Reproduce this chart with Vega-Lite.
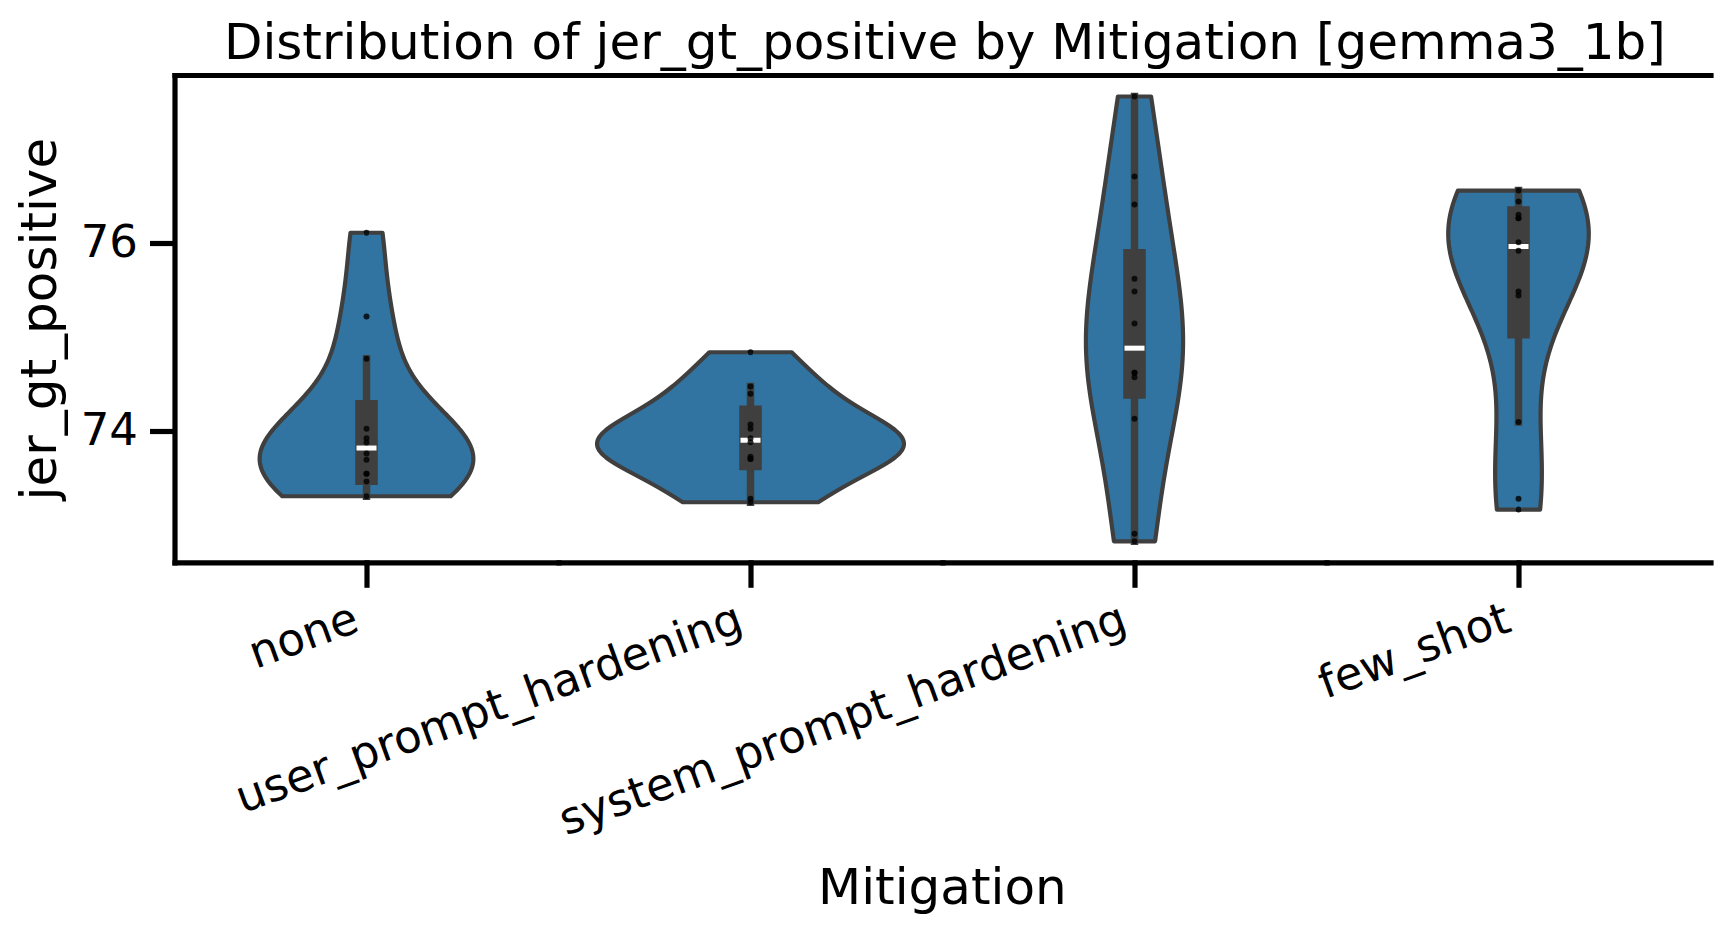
{
  "$schema": "https://vega.github.io/schema/vega-lite/v6.json",
  "background": "white",
  "padding": {"left": 14.5, "top": 19, "right": 10, "bottom": 5},
  "title": {"text": "Distribution of jer_gt_positive by Mitigation [gemma3_1b]", "fontSize": 50, "font": "DejaVu Sans", "fontWeight": "normal", "color": "black", "anchor": "middle", "dx": 82, "offset": 6},
  "data": {"values": [
    {"Mitigation": "none", "jer_gt_positive": 76.107},
    {"Mitigation": "none", "jer_gt_positive": 75.215},
    {"Mitigation": "none", "jer_gt_positive": 74.764},
    {"Mitigation": "none", "jer_gt_positive": 74.018},
    {"Mitigation": "none", "jer_gt_positive": 73.918},
    {"Mitigation": "none", "jer_gt_positive": 73.872},
    {"Mitigation": "none", "jer_gt_positive": 73.755},
    {"Mitigation": "none", "jer_gt_positive": 73.688},
    {"Mitigation": "none", "jer_gt_positive": 73.539},
    {"Mitigation": "none", "jer_gt_positive": 73.539},
    {"Mitigation": "none", "jer_gt_positive": 73.457},
    {"Mitigation": "none", "jer_gt_positive": 73.300},
    {"Mitigation": "user_prompt_hardening", "jer_gt_positive": 74.834},
    {"Mitigation": "user_prompt_hardening", "jer_gt_positive": 74.469},
    {"Mitigation": "user_prompt_hardening", "jer_gt_positive": 74.391},
    {"Mitigation": "user_prompt_hardening", "jer_gt_positive": 74.064},
    {"Mitigation": "user_prompt_hardening", "jer_gt_positive": 74.018},
    {"Mitigation": "user_prompt_hardening", "jer_gt_positive": 73.918},
    {"Mitigation": "user_prompt_hardening", "jer_gt_positive": 73.875},
    {"Mitigation": "user_prompt_hardening", "jer_gt_positive": 73.720},
    {"Mitigation": "user_prompt_hardening", "jer_gt_positive": 73.696},
    {"Mitigation": "user_prompt_hardening", "jer_gt_positive": 73.696},
    {"Mitigation": "user_prompt_hardening", "jer_gt_positive": 73.272},
    {"Mitigation": "user_prompt_hardening", "jer_gt_positive": 73.236},
    {"Mitigation": "system_prompt_hardening", "jer_gt_positive": 77.559},
    {"Mitigation": "system_prompt_hardening", "jer_gt_positive": 76.706},
    {"Mitigation": "system_prompt_hardening", "jer_gt_positive": 76.408},
    {"Mitigation": "system_prompt_hardening", "jer_gt_positive": 75.616},
    {"Mitigation": "system_prompt_hardening", "jer_gt_positive": 75.481},
    {"Mitigation": "system_prompt_hardening", "jer_gt_positive": 75.140},
    {"Mitigation": "system_prompt_hardening", "jer_gt_positive": 74.615},
    {"Mitigation": "system_prompt_hardening", "jer_gt_positive": 74.615},
    {"Mitigation": "system_prompt_hardening", "jer_gt_positive": 74.568},
    {"Mitigation": "system_prompt_hardening", "jer_gt_positive": 74.125},
    {"Mitigation": "system_prompt_hardening", "jer_gt_positive": 72.900},
    {"Mitigation": "system_prompt_hardening", "jer_gt_positive": 72.820},
    {"Mitigation": "few_shot", "jer_gt_positive": 76.557},
    {"Mitigation": "few_shot", "jer_gt_positive": 76.440},
    {"Mitigation": "few_shot", "jer_gt_positive": 76.298},
    {"Mitigation": "few_shot", "jer_gt_positive": 76.262},
    {"Mitigation": "few_shot", "jer_gt_positive": 76.262},
    {"Mitigation": "few_shot", "jer_gt_positive": 76.006},
    {"Mitigation": "few_shot", "jer_gt_positive": 75.915},
    {"Mitigation": "few_shot", "jer_gt_positive": 75.481},
    {"Mitigation": "few_shot", "jer_gt_positive": 75.438},
    {"Mitigation": "few_shot", "jer_gt_positive": 74.090},
    {"Mitigation": "few_shot", "jer_gt_positive": 73.272},
    {"Mitigation": "few_shot", "jer_gt_positive": 73.158}
  ]},
  "vconcat": [
    {
      "title": {"text": "Mitigation", "orient": "bottom", "fontSize": 50, "font": "DejaVu Sans", "fontWeight": "normal", "color": "black", "anchor": "middle", "dx": 79.5, "offset": 20.5},
      "spacing": 0,
      "bounds": "flush",
      "hconcat": [
        {
          "width": 192, "height": 487.3,
          "transform": [{"filter": {"field": "Mitigation", "equal": "none"}}],
          "layer": [
            {
              "transform": [{"density": "jer_gt_positive", "bandwidth": 0.5105, "steps": 100, "as": ["value", "density"]}],
              "mark": {"type": "area", "orient": "horizontal", "fill": "#3274a1", "stroke": "#3f3f3f", "strokeWidth": 4.2, "strokeJoin": "round"},
              "encoding": {
                "y": {"field": "value", "type": "quantitative", "scale": {"domain": [72.596, 77.788], "nice": false, "zero": false},
                  "axis": {"orient": "left", "values": [74, 76], "title": "jer_gt_positive", "titleFontSize": 50, "titleFont": "DejaVu Sans", "titleFontWeight": "normal", "titleColor": "black", "titlePadding": 15, "labelFontSize": 45, "labelFont": "DejaVu Sans", "labelColor": "black", "labelPadding": 12, "tickSize": 25, "tickWidth": 5.2, "tickColor": "black", "domainColor": "black", "domainWidth": 5.2, "domainCap": "square", "grid": false}},
                "x": {"field": "density", "type": "quantitative", "stack": null, "scale": {"domain": [0, 0.975], "nice": false, "zero": false, "reverse": true},
                  "axis": {"orient": "bottom", "labels": false, "ticks": false, "title": null, "domainColor": "black", "domainWidth": 5.2, "domainCap": "square", "grid": false}}
              }
            },
            {
              "mark": {"type": "rule", "opacity": 0},
              "encoding": {"x": {"datum": 0, "type": "quantitative", "axis": {"orient": "top", "labels": false, "ticks": false, "title": null, "domainColor": "black", "domainWidth": 5.2, "domainCap": "square", "grid": false}}}
            }
          ]
        },
        {
          "width": 192, "height": 487.3,
          "transform": [{"filter": {"field": "Mitigation", "equal": "none"}}],
          "layer": [
            {
              "transform": [{"density": "jer_gt_positive", "bandwidth": 0.5105, "steps": 100, "as": ["value", "density"]}],
              "mark": {"type": "area", "orient": "horizontal", "fill": "#3274a1", "stroke": "#3f3f3f", "strokeWidth": 4.2, "strokeJoin": "round"},
              "encoding": {
                "y": {"field": "value", "type": "quantitative", "scale": {"domain": [72.596, 77.788], "nice": false, "zero": false}, "axis": null},
                "x": {"field": "density", "type": "quantitative", "stack": null, "scale": {"domain": [0, 0.975], "nice": false, "zero": false},
                  "axis": {"orient": "bottom", "values": [0], "labelExpr": "'none'", "labelAngle": -20, "labelAlign": "right", "labelBaseline": "top", "labelFontSize": 45, "labelFont": "DejaVu Sans", "labelColor": "black", "labelPadding": 9, "labelOffset": -18, "labelLimit": 0, "labelFlush": false, "labelOverlap": false, "labelBound": false, "title": null, "tickSize": 25, "tickWidth": 5.2, "tickColor": "black", "domainColor": "black", "domainWidth": 5.2, "domainCap": "square", "grid": false}}
              }
            },
            {
              "transform": [{"aggregate": [{"op": "min", "field": "jer_gt_positive", "as": "lo"}, {"op": "max", "field": "jer_gt_positive", "as": "hi"}]}],
              "mark": {"type": "rule", "color": "#3274a1", "strokeWidth": 6.5, "strokeCap": "butt"},
              "encoding": {"y": {"field": "lo", "type": "quantitative", "axis": null}, "y2": {"field": "hi"},
                "x": {"datum": 0, "type": "quantitative", "axis": {"orient": "top", "labels": false, "ticks": false, "title": null, "domainColor": "black", "domainWidth": 5.2, "domainCap": "square", "grid": false}}}
            },
            {
              "transform": [
                {"joinaggregate": [{"op": "q1", "field": "jer_gt_positive", "as": "q1"}, {"op": "q3", "field": "jer_gt_positive", "as": "q3"}]},
                {"filter": "datum.jer_gt_positive >= datum.q1 - 1.5 * (datum.q3 - datum.q1) && datum.jer_gt_positive <= datum.q3 + 1.5 * (datum.q3 - datum.q1)"},
                {"aggregate": [{"op": "min", "field": "jer_gt_positive", "as": "whislo"}, {"op": "max", "field": "jer_gt_positive", "as": "whishi"}]}
              ],
              "mark": {"type": "rule", "color": "#3f3f3f", "strokeWidth": 7.5, "strokeCap": "square"},
              "encoding": {"y": {"field": "whislo", "type": "quantitative", "axis": null}, "y2": {"field": "whishi"}, "x": {"datum": 0, "type": "quantitative", "axis": null}}
            },
            {
              "transform": [{"aggregate": [{"op": "q1", "field": "jer_gt_positive", "as": "q1"}, {"op": "q3", "field": "jer_gt_positive", "as": "q3"}]}],
              "mark": {"type": "rule", "color": "#3f3f3f", "strokeWidth": 22.5, "strokeCap": "square"},
              "encoding": {"y": {"field": "q1", "type": "quantitative", "axis": null}, "y2": {"field": "q3"}, "x": {"datum": 0, "type": "quantitative", "axis": null}}
            },
            {
              "transform": [{"aggregate": [{"op": "median", "field": "jer_gt_positive", "as": "med"}]}],
              "mark": {"type": "tick", "orient": "horizontal", "color": "white", "size": 20, "thickness": 5, "opacity": 1},
              "encoding": {"y": {"field": "med", "type": "quantitative", "axis": null}, "x": {"datum": 0, "type": "quantitative", "axis": null}}
            },
            {
              "mark": {"type": "circle", "size": 36, "color": "black", "opacity": 0.8},
              "encoding": {"y": {"field": "jer_gt_positive", "type": "quantitative", "axis": null}, "x": {"datum": 0, "type": "quantitative", "axis": null}}
            }
          ]
        },
        {
          "width": 192, "height": 487.3,
          "transform": [{"filter": {"field": "Mitigation", "equal": "user_prompt_hardening"}}],
          "layer": [
            {
              "transform": [{"density": "jer_gt_positive", "bandwidth": 0.2852, "steps": 100, "as": ["value", "density"]}],
              "mark": {"type": "area", "orient": "horizontal", "fill": "#3274a1", "stroke": "#3f3f3f", "strokeWidth": 4.2, "strokeJoin": "round"},
              "encoding": {
                "y": {"field": "value", "type": "quantitative", "scale": {"domain": [72.596, 77.788], "nice": false, "zero": false}, "axis": null},
                "x": {"field": "density", "type": "quantitative", "stack": null, "scale": {"domain": [0, 0.975], "nice": false, "zero": false, "reverse": true},
                  "axis": {"orient": "bottom", "labels": false, "ticks": false, "title": null, "domainColor": "black", "domainWidth": 5.2, "domainCap": "square", "grid": false}}
              }
            },
            {
              "mark": {"type": "rule", "opacity": 0},
              "encoding": {"x": {"datum": 0, "type": "quantitative", "axis": {"orient": "top", "labels": false, "ticks": false, "title": null, "domainColor": "black", "domainWidth": 5.2, "domainCap": "square", "grid": false}}}
            }
          ]
        },
        {
          "width": 192, "height": 487.3,
          "transform": [{"filter": {"field": "Mitigation", "equal": "user_prompt_hardening"}}],
          "layer": [
            {
              "transform": [{"density": "jer_gt_positive", "bandwidth": 0.2852, "steps": 100, "as": ["value", "density"]}],
              "mark": {"type": "area", "orient": "horizontal", "fill": "#3274a1", "stroke": "#3f3f3f", "strokeWidth": 4.2, "strokeJoin": "round"},
              "encoding": {
                "y": {"field": "value", "type": "quantitative", "scale": {"domain": [72.596, 77.788], "nice": false, "zero": false}, "axis": null},
                "x": {"field": "density", "type": "quantitative", "stack": null, "scale": {"domain": [0, 0.975], "nice": false, "zero": false},
                  "axis": {"orient": "bottom", "values": [0], "labelExpr": "'user_prompt_hardening'", "labelAngle": -20, "labelAlign": "right", "labelBaseline": "top", "labelFontSize": 45, "labelFont": "DejaVu Sans", "labelColor": "black", "labelPadding": 9, "labelOffset": -18, "labelLimit": 0, "labelFlush": false, "labelOverlap": false, "labelBound": false, "title": null, "tickSize": 25, "tickWidth": 5.2, "tickColor": "black", "domainColor": "black", "domainWidth": 5.2, "domainCap": "square", "grid": false}}
              }
            },
            {
              "transform": [{"aggregate": [{"op": "min", "field": "jer_gt_positive", "as": "lo"}, {"op": "max", "field": "jer_gt_positive", "as": "hi"}]}],
              "mark": {"type": "rule", "color": "#3274a1", "strokeWidth": 6.5, "strokeCap": "butt"},
              "encoding": {"y": {"field": "lo", "type": "quantitative", "axis": null}, "y2": {"field": "hi"},
                "x": {"datum": 0, "type": "quantitative", "axis": {"orient": "top", "labels": false, "ticks": false, "title": null, "domainColor": "black", "domainWidth": 5.2, "domainCap": "square", "grid": false}}}
            },
            {
              "transform": [
                {"joinaggregate": [{"op": "q1", "field": "jer_gt_positive", "as": "q1"}, {"op": "q3", "field": "jer_gt_positive", "as": "q3"}]},
                {"filter": "datum.jer_gt_positive >= datum.q1 - 1.5 * (datum.q3 - datum.q1) && datum.jer_gt_positive <= datum.q3 + 1.5 * (datum.q3 - datum.q1)"},
                {"aggregate": [{"op": "min", "field": "jer_gt_positive", "as": "whislo"}, {"op": "max", "field": "jer_gt_positive", "as": "whishi"}]}
              ],
              "mark": {"type": "rule", "color": "#3f3f3f", "strokeWidth": 7.5, "strokeCap": "square"},
              "encoding": {"y": {"field": "whislo", "type": "quantitative", "axis": null}, "y2": {"field": "whishi"}, "x": {"datum": 0, "type": "quantitative", "axis": null}}
            },
            {
              "transform": [{"aggregate": [{"op": "q1", "field": "jer_gt_positive", "as": "q1"}, {"op": "q3", "field": "jer_gt_positive", "as": "q3"}]}],
              "mark": {"type": "rule", "color": "#3f3f3f", "strokeWidth": 22.5, "strokeCap": "square"},
              "encoding": {"y": {"field": "q1", "type": "quantitative", "axis": null}, "y2": {"field": "q3"}, "x": {"datum": 0, "type": "quantitative", "axis": null}}
            },
            {
              "transform": [{"aggregate": [{"op": "median", "field": "jer_gt_positive", "as": "med"}]}],
              "mark": {"type": "tick", "orient": "horizontal", "color": "white", "size": 20, "thickness": 5, "opacity": 1},
              "encoding": {"y": {"field": "med", "type": "quantitative", "axis": null}, "x": {"datum": 0, "type": "quantitative", "axis": null}}
            },
            {
              "mark": {"type": "circle", "size": 36, "color": "black", "opacity": 0.8},
              "encoding": {"y": {"field": "jer_gt_positive", "type": "quantitative", "axis": null}, "x": {"datum": 0, "type": "quantitative", "axis": null}}
            }
          ]
        },
        {
          "width": 192, "height": 487.3,
          "transform": [{"filter": {"field": "Mitigation", "equal": "system_prompt_hardening"}}],
          "layer": [
            {
              "transform": [{"density": "jer_gt_positive", "bandwidth": 0.8693, "steps": 100, "as": ["value", "density"]}],
              "mark": {"type": "area", "orient": "horizontal", "fill": "#3274a1", "stroke": "#3f3f3f", "strokeWidth": 4.2, "strokeJoin": "round"},
              "encoding": {
                "y": {"field": "value", "type": "quantitative", "scale": {"domain": [72.596, 77.788], "nice": false, "zero": false}, "axis": null},
                "x": {"field": "density", "type": "quantitative", "stack": null, "scale": {"domain": [0, 0.975], "nice": false, "zero": false, "reverse": true},
                  "axis": {"orient": "bottom", "labels": false, "ticks": false, "title": null, "domainColor": "black", "domainWidth": 5.2, "domainCap": "square", "grid": false}}
              }
            },
            {
              "mark": {"type": "rule", "opacity": 0},
              "encoding": {"x": {"datum": 0, "type": "quantitative", "axis": {"orient": "top", "labels": false, "ticks": false, "title": null, "domainColor": "black", "domainWidth": 5.2, "domainCap": "square", "grid": false}}}
            }
          ]
        },
        {
          "width": 192, "height": 487.3,
          "transform": [{"filter": {"field": "Mitigation", "equal": "system_prompt_hardening"}}],
          "layer": [
            {
              "transform": [{"density": "jer_gt_positive", "bandwidth": 0.8693, "steps": 100, "as": ["value", "density"]}],
              "mark": {"type": "area", "orient": "horizontal", "fill": "#3274a1", "stroke": "#3f3f3f", "strokeWidth": 4.2, "strokeJoin": "round"},
              "encoding": {
                "y": {"field": "value", "type": "quantitative", "scale": {"domain": [72.596, 77.788], "nice": false, "zero": false}, "axis": null},
                "x": {"field": "density", "type": "quantitative", "stack": null, "scale": {"domain": [0, 0.975], "nice": false, "zero": false},
                  "axis": {"orient": "bottom", "values": [0], "labelExpr": "'system_prompt_hardening'", "labelAngle": -20, "labelAlign": "right", "labelBaseline": "top", "labelFontSize": 45, "labelFont": "DejaVu Sans", "labelColor": "black", "labelPadding": 9, "labelOffset": -18, "labelLimit": 0, "labelFlush": false, "labelOverlap": false, "labelBound": false, "title": null, "tickSize": 25, "tickWidth": 5.2, "tickColor": "black", "domainColor": "black", "domainWidth": 5.2, "domainCap": "square", "grid": false}}
              }
            },
            {
              "transform": [{"aggregate": [{"op": "min", "field": "jer_gt_positive", "as": "lo"}, {"op": "max", "field": "jer_gt_positive", "as": "hi"}]}],
              "mark": {"type": "rule", "color": "#3274a1", "strokeWidth": 6.5, "strokeCap": "butt"},
              "encoding": {"y": {"field": "lo", "type": "quantitative", "axis": null}, "y2": {"field": "hi"},
                "x": {"datum": 0, "type": "quantitative", "axis": {"orient": "top", "labels": false, "ticks": false, "title": null, "domainColor": "black", "domainWidth": 5.2, "domainCap": "square", "grid": false}}}
            },
            {
              "transform": [
                {"joinaggregate": [{"op": "q1", "field": "jer_gt_positive", "as": "q1"}, {"op": "q3", "field": "jer_gt_positive", "as": "q3"}]},
                {"filter": "datum.jer_gt_positive >= datum.q1 - 1.5 * (datum.q3 - datum.q1) && datum.jer_gt_positive <= datum.q3 + 1.5 * (datum.q3 - datum.q1)"},
                {"aggregate": [{"op": "min", "field": "jer_gt_positive", "as": "whislo"}, {"op": "max", "field": "jer_gt_positive", "as": "whishi"}]}
              ],
              "mark": {"type": "rule", "color": "#3f3f3f", "strokeWidth": 7.5, "strokeCap": "square"},
              "encoding": {"y": {"field": "whislo", "type": "quantitative", "axis": null}, "y2": {"field": "whishi"}, "x": {"datum": 0, "type": "quantitative", "axis": null}}
            },
            {
              "transform": [{"aggregate": [{"op": "q1", "field": "jer_gt_positive", "as": "q1"}, {"op": "q3", "field": "jer_gt_positive", "as": "q3"}]}],
              "mark": {"type": "rule", "color": "#3f3f3f", "strokeWidth": 22.5, "strokeCap": "square"},
              "encoding": {"y": {"field": "q1", "type": "quantitative", "axis": null}, "y2": {"field": "q3"}, "x": {"datum": 0, "type": "quantitative", "axis": null}}
            },
            {
              "transform": [{"aggregate": [{"op": "median", "field": "jer_gt_positive", "as": "med"}]}],
              "mark": {"type": "tick", "orient": "horizontal", "color": "white", "size": 20, "thickness": 5, "opacity": 1},
              "encoding": {"y": {"field": "med", "type": "quantitative", "axis": null}, "x": {"datum": 0, "type": "quantitative", "axis": null}}
            },
            {
              "mark": {"type": "circle", "size": 36, "color": "black", "opacity": 0.8},
              "encoding": {"y": {"field": "jer_gt_positive", "type": "quantitative", "axis": null}, "x": {"datum": 0, "type": "quantitative", "axis": null}}
            }
          ]
        },
        {
          "width": 192, "height": 487.3,
          "transform": [{"filter": {"field": "Mitigation", "equal": "few_shot"}}],
          "layer": [
            {
              "transform": [{"density": "jer_gt_positive", "bandwidth": 0.7477, "steps": 100, "as": ["value", "density"]}],
              "mark": {"type": "area", "orient": "horizontal", "fill": "#3274a1", "stroke": "#3f3f3f", "strokeWidth": 4.2, "strokeJoin": "round"},
              "encoding": {
                "y": {"field": "value", "type": "quantitative", "scale": {"domain": [72.596, 77.788], "nice": false, "zero": false}, "axis": null},
                "x": {"field": "density", "type": "quantitative", "stack": null, "scale": {"domain": [0, 0.975], "nice": false, "zero": false, "reverse": true},
                  "axis": {"orient": "bottom", "labels": false, "ticks": false, "title": null, "domainColor": "black", "domainWidth": 5.2, "domainCap": "square", "grid": false}}
              }
            },
            {
              "mark": {"type": "rule", "opacity": 0},
              "encoding": {"x": {"datum": 0, "type": "quantitative", "axis": {"orient": "top", "labels": false, "ticks": false, "title": null, "domainColor": "black", "domainWidth": 5.2, "domainCap": "square", "grid": false}}}
            }
          ]
        },
        {
          "width": 192, "height": 487.3,
          "transform": [{"filter": {"field": "Mitigation", "equal": "few_shot"}}],
          "layer": [
            {
              "transform": [{"density": "jer_gt_positive", "bandwidth": 0.7477, "steps": 100, "as": ["value", "density"]}],
              "mark": {"type": "area", "orient": "horizontal", "fill": "#3274a1", "stroke": "#3f3f3f", "strokeWidth": 4.2, "strokeJoin": "round"},
              "encoding": {
                "y": {"field": "value", "type": "quantitative", "scale": {"domain": [72.596, 77.788], "nice": false, "zero": false}, "axis": null},
                "x": {"field": "density", "type": "quantitative", "stack": null, "scale": {"domain": [0, 0.975], "nice": false, "zero": false},
                  "axis": {"orient": "bottom", "values": [0], "labelExpr": "'few_shot'", "labelAngle": -20, "labelAlign": "right", "labelBaseline": "top", "labelFontSize": 45, "labelFont": "DejaVu Sans", "labelColor": "black", "labelPadding": 9, "labelOffset": -18, "labelLimit": 0, "labelFlush": false, "labelOverlap": false, "labelBound": false, "title": null, "tickSize": 25, "tickWidth": 5.2, "tickColor": "black", "domainColor": "black", "domainWidth": 5.2, "domainCap": "square", "grid": false}}
              }
            },
            {
              "transform": [{"aggregate": [{"op": "min", "field": "jer_gt_positive", "as": "lo"}, {"op": "max", "field": "jer_gt_positive", "as": "hi"}]}],
              "mark": {"type": "rule", "color": "#3274a1", "strokeWidth": 6.5, "strokeCap": "butt"},
              "encoding": {"y": {"field": "lo", "type": "quantitative", "axis": null}, "y2": {"field": "hi"},
                "x": {"datum": 0, "type": "quantitative", "axis": {"orient": "top", "labels": false, "ticks": false, "title": null, "domainColor": "black", "domainWidth": 5.2, "domainCap": "square", "grid": false}}}
            },
            {
              "transform": [
                {"joinaggregate": [{"op": "q1", "field": "jer_gt_positive", "as": "q1"}, {"op": "q3", "field": "jer_gt_positive", "as": "q3"}]},
                {"filter": "datum.jer_gt_positive >= datum.q1 - 1.5 * (datum.q3 - datum.q1) && datum.jer_gt_positive <= datum.q3 + 1.5 * (datum.q3 - datum.q1)"},
                {"aggregate": [{"op": "min", "field": "jer_gt_positive", "as": "whislo"}, {"op": "max", "field": "jer_gt_positive", "as": "whishi"}]}
              ],
              "mark": {"type": "rule", "color": "#3f3f3f", "strokeWidth": 7.5, "strokeCap": "square"},
              "encoding": {"y": {"field": "whislo", "type": "quantitative", "axis": {"orient": "right", "labels": false, "ticks": false, "title": null, "domainColor": "black", "domainWidth": 5.2, "domainCap": "square", "grid": false}}, "y2": {"field": "whishi"}, "x": {"datum": 0, "type": "quantitative", "axis": null}}
            },
            {
              "transform": [{"aggregate": [{"op": "q1", "field": "jer_gt_positive", "as": "q1"}, {"op": "q3", "field": "jer_gt_positive", "as": "q3"}]}],
              "mark": {"type": "rule", "color": "#3f3f3f", "strokeWidth": 22.5, "strokeCap": "square"},
              "encoding": {"y": {"field": "q1", "type": "quantitative", "axis": null}, "y2": {"field": "q3"}, "x": {"datum": 0, "type": "quantitative", "axis": null}}
            },
            {
              "transform": [{"aggregate": [{"op": "median", "field": "jer_gt_positive", "as": "med"}]}],
              "mark": {"type": "tick", "orient": "horizontal", "color": "white", "size": 20, "thickness": 5, "opacity": 1},
              "encoding": {"y": {"field": "med", "type": "quantitative", "axis": null}, "x": {"datum": 0, "type": "quantitative", "axis": null}}
            },
            {
              "mark": {"type": "circle", "size": 36, "color": "black", "opacity": 0.8},
              "encoding": {"y": {"field": "jer_gt_positive", "type": "quantitative", "axis": null}, "x": {"datum": 0, "type": "quantitative", "axis": null}}
            }
          ]
        }
      ]
    }
  ],
  "config": {"view": {"stroke": null}, "font": "DejaVu Sans"}
}
